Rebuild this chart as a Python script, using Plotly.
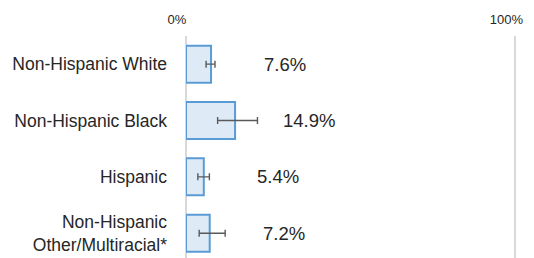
import plotly.graph_objects as go

categories = ["Non-Hispanic White", "Non-Hispanic Black", "Hispanic",
              "Non-Hispanic<br>Other/Multiracial*"]
values = [7.6, 14.9, 5.4, 7.2]
ci_lower = [6.1, 9.6, 3.6, 4.0]
ci_upper = [8.8, 21.7, 7.1, 11.9]
value_labels = ["7.6%", "14.9%", "5.4%", "7.2%"]
tick_vals = [0, 100]
tick_text = ["0%", "100%"]

err_plus = [u - v for u, v in zip(ci_upper, values)]
err_minus = [v - l for v, l in zip(values, ci_lower)]

font_family = "Liberation Sans, Arial, sans-serif"
text_color = "#262626"

fig = go.Figure()
fig.add_trace(go.Bar(
    y=categories, x=values, orientation="h",
    marker=dict(color="#deebf7", line=dict(color="#5b9bd5", width=2)),
    error_x=dict(type="data", symmetric=False, array=err_plus,
                 arrayminus=err_minus, color="#595959", thickness=1.4, width=3.5),
    hoverinfo="skip",
))

for cat, v, lab in zip(categories, values, value_labels):
    fig.add_annotation(x=v, y=cat, text=lab, showarrow=False, xref="x", yref="y",
                       xanchor="center", xshift=74,
                       font=dict(family=font_family, size=18.5, color=text_color))

fig.update_layout(
    width=534, height=258,
    margin=dict(l=186, r=17, t=36, b=0),
    paper_bgcolor="white", plot_bgcolor="white",
    showlegend=False,
    bargap=0.343,
    font=dict(family=font_family, color=text_color),
)
fig.update_xaxes(
    side="top", range=[0, 100.5], tickvals=tick_vals, ticktext=tick_text,
    showgrid=True, gridcolor="#d9d9d9", gridwidth=1.5,
    zeroline=True, zerolinecolor="#d9d9d9", zerolinewidth=1.5,
    showline=False, ticks="", ticklabelshift=-9, ticklabelstandoff=8,
    tickfont=dict(family=font_family, size=13, color=text_color),
    fixedrange=True, automargin=False,
)
fig.update_yaxes(
    categoryorder="array", categoryarray=categories,
    range=[3.44, -0.5], showgrid=False, zeroline=False, showline=False,
    ticks="", ticklabelstandoff=18,
    tickfont=dict(family=font_family, size=17.5, color=text_color),
    fixedrange=True, automargin=False,
)

fig.write_html(
    "out.html",
    config={"displayModeBar": False},
    post_script="document.body.style.margin='0';document.body.style.overflow='hidden';",
)
